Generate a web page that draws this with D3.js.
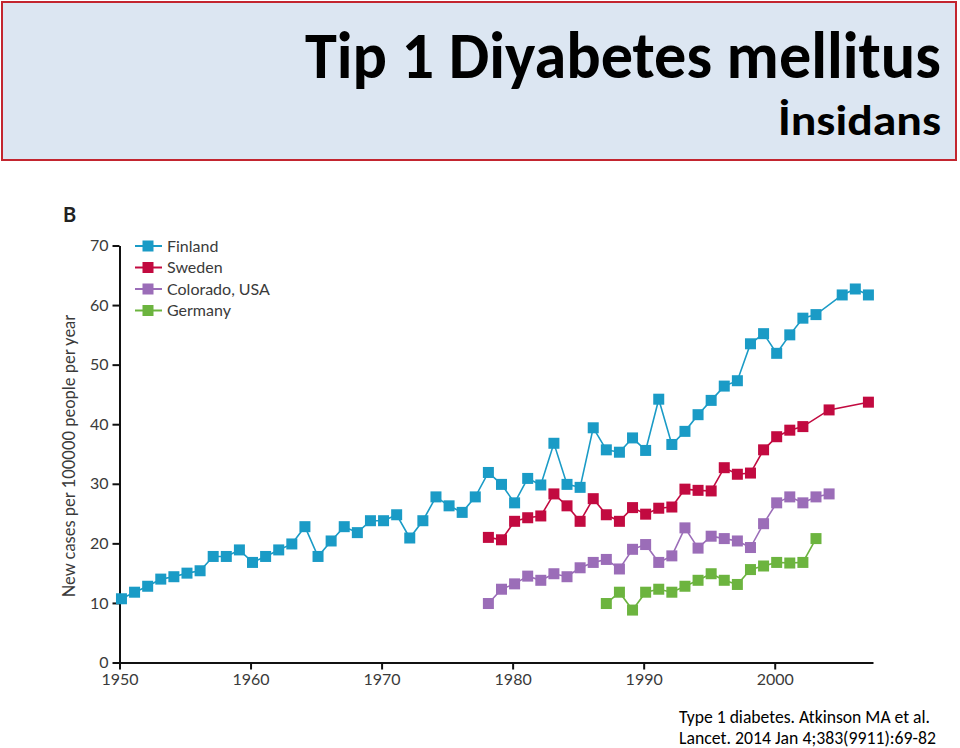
<!DOCTYPE html>
<html>
<head>
<meta charset="utf-8">
<script src="https://cdn.jsdelivr.net/npm/d3@7"></script>
<style>
  html, body { margin: 0; padding: 0; background: #ffffff; }
  svg { display: block; }
</style>
</head>
<body>
<svg id="chart" width="960" height="748"></svg>
<script>
// ---------- DATA ----------
const titleMain = "Tip 1 Diyabetes mellitus";
const titleSub = "İnsidans";
const panelLabel = "B";
const yAxisTitle = "New cases per 100000 people per year";
const citationLines = ["Type 1 diabetes. Atkinson MA et al.", "Lancet. 2014 Jan 4;383(9911):69-82"];

const seriesNames = ["Finland", "Sweden", "Colorado, USA", "Germany"];
const seriesColors = ["#1a9bc6", "#c20a40", "#9b6db8", "#6cb43f"];

const xTickValues = [1950, 1960, 1970, 1980, 1990, 2000];
const yTickValues = [0, 10, 20, 30, 40, 50, 60, 70];

const finlandYears = [1950,1951,1952,1953,1954,1955,1956,1957,1958,1959,1960,1961,1962,1963,1964,1965,1966,1967,1968,1969,1970,1971,1972,1973,1974,1975,1976,1977,1978,1979,1980,1981,1982,1983,1984,1985,1986,1987,1988,1989,1990,1991,1992,1993,1994,1995,1996,1997,1998,1999,2000,2001,2002,2003,2005,2006,2007];
const finlandValues = [10.7,11.8,12.8,14.0,14.4,15.0,15.4,17.8,17.8,18.9,16.8,17.8,18.9,19.9,22.8,17.8,20.4,22.8,21.8,23.8,23.8,24.8,20.9,23.8,27.8,26.3,25.2,27.8,31.9,29.9,26.8,30.9,29.8,36.8,29.9,29.4,39.4,35.7,35.3,37.7,35.6,44.2,36.6,38.8,41.6,44.0,46.4,47.3,53.5,55.2,51.9,55.0,57.8,58.4,61.7,62.7,61.7];

const swedenYears = [1978,1979,1980,1981,1982,1983,1984,1985,1986,1987,1988,1989,1990,1991,1992,1993,1994,1995,1996,1997,1998,1999,2000,2001,2002,2004,2007];
const swedenValues = [21.0,20.6,23.7,24.3,24.6,28.3,26.3,23.7,27.5,24.8,23.7,26.0,24.9,25.9,26.1,29.1,28.9,28.8,32.7,31.6,31.8,35.7,37.9,39.0,39.6,42.4,43.7];

const coloradoYears = [1978,1979,1980,1981,1982,1983,1984,1985,1986,1987,1988,1989,1990,1991,1992,1993,1994,1995,1996,1997,1998,1999,2000,2001,2002,2003,2004];
const coloradoValues = [9.9,12.3,13.2,14.5,13.8,14.9,14.4,15.9,16.8,17.3,15.7,19.0,19.8,16.8,17.9,22.6,19.2,21.2,20.8,20.4,19.3,23.3,26.8,27.8,26.8,27.8,28.3];

const germanyYears = [1987,1988,1989,1990,1991,1992,1993,1994,1995,1996,1997,1998,1999,2000,2001,2002,2003];
const germanyValues = [9.9,11.8,8.8,11.8,12.3,11.8,12.8,13.8,14.9,13.8,13.1,15.6,16.2,16.8,16.7,16.8,20.8];

// ---------- BUILD ----------
const seriesYears = [finlandYears, swedenYears, coloradoYears, germanyYears];
const seriesValues = [finlandValues, swedenValues, coloradoValues, germanyValues];
const series = seriesNames.map((name, i) => ({
  name, color: seriesColors[i],
  points: seriesYears[i].map((yr, j) => ({ year: yr, value: seriesValues[i][j] }))
}));

const svg = d3.select("#chart");
const chartFont = "Lato, 'Open Sans', sans-serif";
const titleFont = "Carlito, Calibri, Lato, sans-serif";

// Title box
svg.append("rect")
  .attr("x", 2).attr("y", 2).attr("width", 954).attr("height", 158)
  .attr("fill", "#dce6f2").attr("stroke", "#c3252f").attr("stroke-width", 2);

svg.append("text")
  .attr("x", 941).attr("y", 78)
  .attr("text-anchor", "end")
  .attr("font-family", titleFont).attr("font-weight", "bold")
  .attr("font-size", 66).attr("fill", "#000")
  .attr("textLength", 636).attr("lengthAdjust", "spacingAndGlyphs")
  .text(titleMain);

svg.append("text")
  .attr("x", 941).attr("y", 135)
  .attr("text-anchor", "end")
  .attr("font-family", titleFont).attr("font-weight", "bold")
  .attr("font-size", 42).attr("fill", "#000")
  .attr("textLength", 163).attr("lengthAdjust", "spacingAndGlyphs")
  .text(titleSub);

// Scales
const x = d3.scaleLinear().domain([1950, 2007.5]).range([119.5, 873]);
const y = d3.scaleLinear().domain([0, 70]).range([662.5, 245.5]);
const pointOffset = 0.15;
const px = d => x(d.year + pointOffset);
const py = d => y(d.value);

// Panel label
svg.append("text")
  .attr("x", 63).attr("y", 222)
  .attr("font-family", chartFont).attr("font-weight", "bold")
  .attr("font-size", 20).attr("fill", "#222")
  .text(panelLabel);

// Axes
const yAxis = svg.append("g")
  .attr("transform", `translate(${x(1950)},0)`)
  .call(d3.axisLeft(y).tickValues(yTickValues).tickSize(7).tickPadding(4).tickSizeOuter(0));
const xAxis = svg.append("g")
  .attr("transform", `translate(0,${y(0)})`)
  .call(d3.axisBottom(x).tickValues(xTickValues).tickFormat(d3.format("d")).tickSize(7).tickPadding(4).tickSizeOuter(0));

[xAxis, yAxis].forEach(g => {
  g.select(".domain").attr("stroke", "#111").attr("stroke-width", 2);
  g.selectAll(".tick line").attr("stroke", "#111").attr("stroke-width", 2);
  g.selectAll(".tick text").attr("font-family", chartFont).attr("font-size", 16).attr("fill", "#3a3a3a");
});

// Y axis title
svg.append("text")
  .attr("transform", `translate(75,${(y(0) + y(70)) / 2 + 2}) rotate(-90)`)
  .attr("text-anchor", "middle")
  .attr("font-family", chartFont).attr("font-size", 16.5).attr("fill", "#3a3a3a")
  .text(yAxisTitle);

// Series
const line = d3.line().x(px).y(py);
const markerSize = 11;

const sg = svg.selectAll("g.series").data(series).enter().append("g").attr("class", "series");
sg.append("path")
  .attr("d", d => line(d.points))
  .attr("fill", "none").attr("stroke", d => d.color).attr("stroke-width", 1.6);
sg.each(function(s) {
  d3.select(this).selectAll("rect").data(s.points).enter().append("rect")
    .attr("x", d => px(d) - markerSize / 2)
    .attr("y", d => py(d) - markerSize / 2)
    .attr("width", markerSize).attr("height", markerSize)
    .attr("fill", s.color);
});

// Legend
const legend = svg.append("g").attr("transform", "translate(135,246)");
const li = legend.selectAll("g").data(series).enter().append("g")
  .attr("transform", (d, i) => `translate(0,${i * 21.5})`);
li.append("line").attr("x1", 0).attr("x2", 27).attr("y1", 0).attr("y2", 0)
  .attr("stroke", d => d.color).attr("stroke-width", 2);
li.append("rect").attr("x", 13 - markerSize / 2).attr("y", -markerSize / 2)
  .attr("width", markerSize).attr("height", markerSize).attr("fill", d => d.color);
li.append("text").attr("x", 32).attr("y", 5.5)
  .attr("font-family", chartFont).attr("font-size", 16).attr("fill", "#3a3a3a")
  .text(d => d.name);

// Citation
svg.selectAll("text.cite").data(citationLines).enter().append("text")
  .attr("class", "cite")
  .attr("x", 679).attr("y", (d, i) => 723 + i * 21)
  .attr("font-family", titleFont).attr("font-size", 18).attr("fill", "#000")
  .attr("textLength", (d, i) => i === 0 ? 251 : 257).attr("lengthAdjust", "spacingAndGlyphs")
  .text(d => d);
</script>
</body>
</html>
